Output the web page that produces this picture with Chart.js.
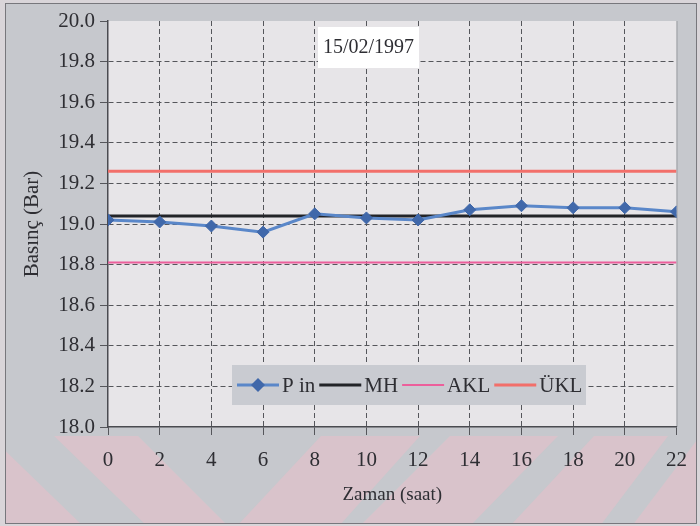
<!DOCTYPE html>
<html>
<head>
<meta charset="utf-8">
<script src="https://cdn.jsdelivr.net/npm/chart.js@4/dist/chart.umd.min.js"></script>
<style>
  html, body { margin: 0; padding: 0; background: #d9d5d9; }
  canvas { display: block; }
</style>
</head>
<body>
<canvas id="c" width="700" height="526"></canvas>
<script>
// Hourly inlet pressure readings and control limits
const hours = [0, 2, 4, 6, 8, 10, 12, 14, 16, 18, 20, 22];
const pIn = [19.02, 19.01, 18.99, 18.96, 19.05, 19.03, 19.02, 19.07, 19.09, 19.08, 19.08, 19.06];
const mhLevel = 19.04;   // centre line
const aklLevel = 18.81;  // lower control limit
const uklLevel = 19.26;  // upper control limit
const seriesNames = ['P in', 'MH', 'AKL', 'ÜKL'];
const chartDate = '15/02/1997';
const xTitle = 'Zaman (saat)';
const yTitle = 'Basınç (Bar)';

const SERIF = "'Liberation Serif', 'Times New Roman', serif";
const INK = '#2e2e33';

// Horizontal reference lines span the full hour range
const levelLine = v => [{ x: hours[0], y: v }, { x: hours[hours.length - 1], y: v }];

// Page backdrop: grey panel with pale diagonal bands along the bottom
const backdrop = {
  id: 'backdrop',
  beforeDraw(chart) {
    const { ctx, width, height, chartArea: a } = chart;
    ctx.save();
    ctx.fillStyle = '#d9d5d9';
    ctx.fillRect(0, 0, width, height);
    ctx.fillStyle = '#c6c8cd';
    ctx.fillRect(5, 3, 692, 521);
    ctx.beginPath();
    ctx.rect(5, a.bottom + 9, 692, height - a.bottom - 11);
    ctx.clip();
    const top = a.bottom + 9, bot = height;
    const bands = [
      [-120, -10, -30, 83],
      [54, 138, 147, 228],
      [321, 420, 237, 339],
      [450, 558, 360, 470],
      [594, 668, 510, 600],
      [700, 820, 632, 740]
    ];
    ctx.fillStyle = '#d9c3cb';
    bands.forEach(([t0, t1, b0, b1]) => {
      ctx.beginPath();
      ctx.moveTo(t0, top); ctx.lineTo(t1, top);
      ctx.lineTo(b1, bot); ctx.lineTo(b0, bot);
      ctx.closePath(); ctx.fill();
    });
    ctx.restore();
    ctx.save();
    ctx.fillStyle = '#e7e5e8';
    ctx.fillRect(a.left, a.top, a.right - a.left, a.bottom - a.top);
    ctx.strokeStyle = '#9a9ca2';
    ctx.lineWidth = 1;
    ctx.beginPath();
    ctx.moveTo(a.right + 0.5, a.top); ctx.lineTo(a.right + 0.5, a.bottom);
    ctx.stroke();
    ctx.strokeStyle = '#77777c';
    ctx.strokeRect(5.5, 3.5, 691, 520);
    ctx.restore();
  }
};

// Date label box and the in-plot legend
const overlays = {
  id: 'overlays',
  afterDatasetsDraw(chart) {
    const { ctx, chartArea: a } = chart;
    ctx.save();
    // date box
    const bx = a.left + 210, by = a.top + 6;
    ctx.fillStyle = '#ffffff';
    ctx.fillRect(bx, by, 101, 41);
    ctx.fillStyle = INK;
    ctx.font = '20px ' + SERIF;
    ctx.textAlign = 'center';
    ctx.textBaseline = 'middle';
    ctx.fillText(chartDate, bx + 50.5, by + 21);

    // legend box
    const lx = a.left + 124, ly = a.top + 344, lw = 354, lh = 40;
    ctx.fillStyle = '#c9cbd1';
    ctx.fillRect(lx, ly, lw, lh);
    ctx.font = '21px ' + SERIF;
    ctx.textAlign = 'left';
    const cy = ly + lh / 2;
    let x = lx + 5;
    chart.data.datasets.forEach(ds => {
      ctx.strokeStyle = ds.borderColor;
      ctx.lineWidth = ds.borderWidth;
      ctx.beginPath();
      ctx.moveTo(x, cy); ctx.lineTo(x + 42, cy);
      ctx.stroke();
      if (ds.pointRadius) {
        const r = ds.pointRadius + 1;
        const mx = x + 21;
        ctx.fillStyle = ds.pointBackgroundColor;
        ctx.beginPath();
        ctx.moveTo(mx, cy - r); ctx.lineTo(mx + r, cy);
        ctx.lineTo(mx, cy + r); ctx.lineTo(mx - r, cy);
        ctx.closePath(); ctx.fill();
      }
      x += 45;
      ctx.fillStyle = INK;
      ctx.fillText(ds.label, x, cy + 1);
      x += ctx.measureText(ds.label).width + 4;
    });
    ctx.restore();
  }
};

new Chart(document.getElementById('c'), {
  type: 'line',
  data: {
    datasets: [
      {
        label: seriesNames[0],
        data: hours.map((h, i) => ({ x: h, y: pIn[i] })),
        borderColor: '#5a87c9',
        borderWidth: 3,
        pointStyle: 'rectRot',
        pointRadius: 6,
        pointBackgroundColor: '#4068aa',
        pointBorderColor: '#4068aa',
        pointBorderWidth: 1,
        order: 0
      },
      {
        label: seriesNames[1],
        data: levelLine(mhLevel),
        borderColor: '#222428',
        borderWidth: 3,
        pointRadius: 0,
        order: 1
      },
      {
        label: seriesNames[2],
        data: levelLine(aklLevel),
        borderColor: '#ec5f9b',
        borderWidth: 2,
        pointRadius: 0,
        order: 2
      },
      {
        label: seriesNames[3],
        data: levelLine(uklLevel),
        borderColor: '#f26f6a',
        borderWidth: 3,
        pointRadius: 0,
        order: 3
      }
    ]
  },
  options: {
    responsive: false,
    animation: false,
    devicePixelRatio: 1,
    layout: { padding: { left: 0, top: 21, right: 12, bottom: 0 } },
    plugins: {
      legend: { display: false },
      tooltip: { enabled: false }
    },
    scales: {
      x: {
        type: 'linear',
        min: 0,
        max: 22,
        afterFit: s => { s.height = 99; },
        ticks: {
          stepSize: 2,
          padding: 13,
          color: INK,
          font: { family: SERIF, size: 21 }
        },
        grid: {
          color: c => (c.tick && (c.tick.value === 0 || c.tick.value === 22)) ? 'rgba(0,0,0,0)' : '#55565b',
          lineWidth: 1,
          tickLength: 8,
          tickColor: '#55565b',
          tickBorderDash: []
        },
        border: { display: true, color: '#4a4b50', width: 1.5, dash: [5, 3] },
        title: {
          display: true,
          text: xTitle,
          color: INK,
          font: { family: SERIF, size: 19 },
          padding: { top: 0, bottom: 20 }
        }
      },
      y: {
        min: 18,
        max: 20,
        afterFit: s => { s.width = 108; },
        ticks: {
          stepSize: 0.2,
          padding: 5,
          color: INK,
          font: { family: SERIF, size: 21 },
          callback: v => Number(v).toFixed(1)
        },
        grid: {
          color: c => (c.tick && (Math.abs(c.tick.value - 20) < 1e-6 || Math.abs(c.tick.value - 18) < 1e-6)) ? 'rgba(0,0,0,0)' : '#55565b',
          lineWidth: 1,
          tickLength: 8,
          tickColor: '#55565b',
          tickBorderDash: []
        },
        border: { display: true, color: '#4a4b50', width: 1.5, dash: [5, 3] },
        title: {
          display: true,
          text: yTitle,
          color: INK,
          font: { family: SERIF, size: 21 },
          padding: { top: 20, bottom: 0 }
        }
      }
    }
  },
  plugins: [backdrop, overlays]
});
</script>
</body>
</html>
